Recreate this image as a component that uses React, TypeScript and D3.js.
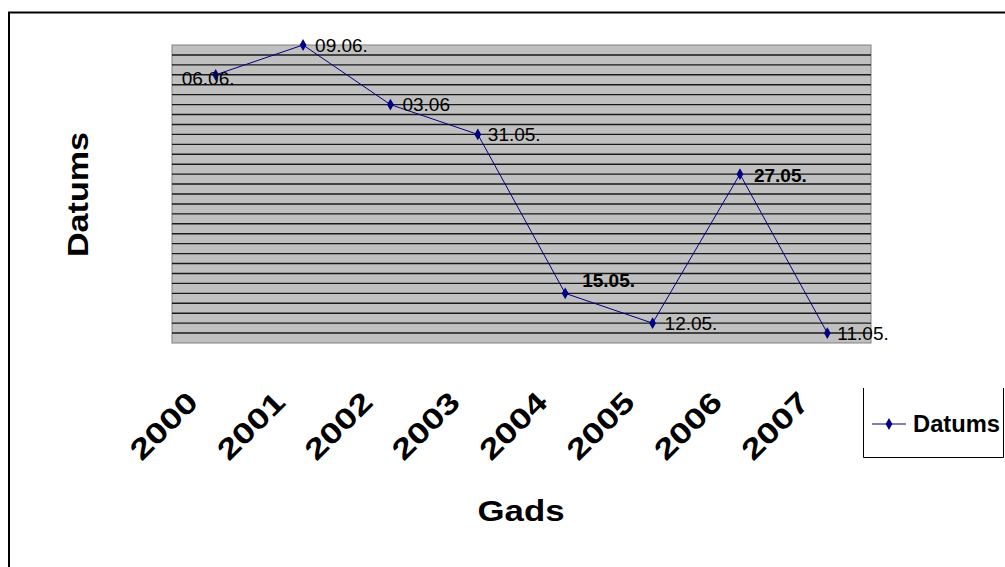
import React from "react";
import * as d3 from "d3";

// years on the x axis
const years = ["2000", "2001", "2002", "2003", "2004", "2005", "2006", "2007"];
// dates (day, month) of each year
const days = [6, 9, 3, 31, 15, 12, 27, 11];
const months = [6, 6, 6, 5, 5, 5, 5, 5];
// data labels as printed on the chart
const pointLabels = ["06.06.", "09.06.", "03.06", "31.05.", "15.05.", "12.05.", "27.05.", "11.05."];
const boldLabels = [false, false, false, false, true, false, true, false];

const seriesName = "Datums";
const xTitle = "Gads";
const yTitle = "Datums";

// label placement around each point (text start, baseline)
const labelDx = [-34, 12, 12, 10, 17, 12, 14, 10];
const labelDy = [10, 7, 6, 7, -6, 7, 8, 7];

const FONT = "'Liberation Sans', Arial, sans-serif";
const W = 1005;
const H = 567;
const plot = { left: 172, top: 45, right: 871, bottom: 343 };

const toDate = (d: number, m: number) => new Date(2000, m - 1, d);

export default function App() {
  const x = d3
    .scaleBand<string>()
    .domain(years)
    .range([plot.left, plot.right]);

  const y = d3
    .scaleTime()
    .domain([toDate(10, 5), toDate(9, 6)])
    .range([plot.bottom, plot.top]);

  const gridDays = d3.timeDay.range(toDate(11, 5), toDate(9, 6));

  const points = years.map((yr, i) => ({
    x: (x(yr) as number) + x.bandwidth() / 2,
    y: y(toDate(days[i], months[i])),
    label: pointLabels[i],
    bold: boldLabels[i],
    i,
  }));

  const line = d3
    .line<{ x: number; y: number }>()
    .x((d) => d.x)
    .y((d) => d.y);

  const diamond = d3.symbol().type(d3.symbolDiamond).size(40)() as string;

  return (
    <div style={{ position: "absolute", left: 0, top: 0 }}>
      <svg width={W} height={H} style={{ display: "block", background: "#fff" }}>
        {/* outer chart border, running off the right and bottom */}
        <rect x={9} y={12.5} width={W + 20} height={H + 20} fill="#fff" stroke="#000" strokeWidth={2} />

        {/* plot area */}
        <rect
          x={plot.left}
          y={plot.top}
          width={plot.right - plot.left}
          height={plot.bottom - plot.top}
          fill="#c0c0c0"
          stroke="#808080"
          strokeWidth={1}
        />
        {gridDays.map((d, i) => (
          <line
            key={i}
            x1={plot.left}
            x2={plot.right}
            y1={y(d)}
            y2={y(d)}
            stroke="#1a1a1a"
            strokeWidth={1.4}
          />
        ))}

        {/* series */}
        <path d={line(points) as string} fill="none" stroke="#000080" strokeWidth={1} />
        {points.map((p) => (
          <path key={p.i} d={diamond} transform={`translate(${p.x},${p.y})`} fill="#000080" />
        ))}
        {points.map((p) => (
          <text
            key={p.i}
            x={p.x + labelDx[p.i]}
            y={p.y + labelDy[p.i]}
            fontFamily={FONT}
            fontSize={19}
            fontWeight={p.bold ? "bold" : "normal"}
            fill="#000"
          >
            {p.label}
          </text>
        ))}

        {/* x tick labels */}
        {years.map((yr) => {
          const cx = (x(yr) as number) + x.bandwidth() / 2 - 16;
          const cy = 404;
          return (
            <text
              key={yr}
              transform={`translate(${cx},${cy}) rotate(-45)`}
              textAnchor="end"
              fontFamily={FONT}
              fontSize={29}
              fontWeight="bold"
              textLength={82}
              lengthAdjust="spacingAndGlyphs"
            >
              {yr}
            </text>
          );
        })}

        {/* axis titles */}
        <text
          x={521}
          y={521}
          textAnchor="middle"
          fontFamily={FONT}
          fontSize={30}
          fontWeight="bold"
          textLength={87}
          lengthAdjust="spacingAndGlyphs"
        >
          {xTitle}
        </text>
        <text
          transform="translate(88,194.5) rotate(-90)"
          textAnchor="middle"
          fontFamily={FONT}
          fontSize={30}
          fontWeight="bold"
          textLength={125}
          lengthAdjust="spacingAndGlyphs"
        >
          {yTitle}
        </text>

        {/* legend */}
        <path d="M863.5,388 V457.5 H1003.5 V388" fill="none" stroke="#000" strokeWidth={1} />
        <line x1={872} x2={906} y1={424} y2={424} stroke="#000080" strokeWidth={1} />
        <path d={diamond} transform="translate(889,424)" fill="#000080" />
        <text
          x={913}
          y={432}
          fontFamily={FONT}
          fontSize={23}
          fontWeight="bold"
          textLength={87}
          lengthAdjust="spacingAndGlyphs"
        >
          {seriesName}
        </text>
      </svg>
    </div>
  );
}
